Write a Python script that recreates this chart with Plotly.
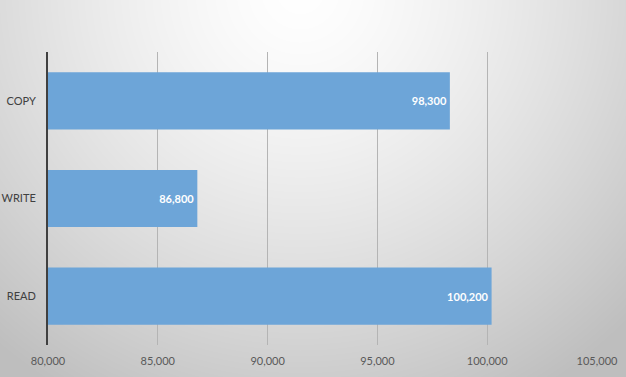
import base64, struct, zlib
import numpy as np
import plotly.graph_objects as go

# ---- data ----
categories = ["READ", "WRITE", "COPY"]
values = [100200, 86800, 98300]
tick_vals = [80000, 85000, 90000, 95000, 100000, 105000]
tick_text = ["80,000", "85,000", "90,000", "95,000", "100,000", "105,000"]

W, H = 626, 377
L, R, T, B = 48, 29, 52, 32
PW, PH = W - L - R, H - T - B

# ---- background radial gradient as PNG ----
yy, xx = np.mgrid[0:H, 0:W].astype(float)
d = np.sqrt((xx - 300.0) ** 2 + ((yy + 10.0) * 1.0) ** 2)
drop = 45.0 * (d / 360.0) ** 1.4
g = np.clip(255.0 - drop, 190, 255).astype(np.uint8)
raw = b"".join(b"\x00" + g[i].tobytes() for i in range(H))

def chunk(tag, data):
    c = struct.pack(">I", len(data)) + tag + data
    return c + struct.pack(">I", zlib.crc32(tag + data) & 0xffffffff)

png = b"\x89PNG\r\n\x1a\n" + chunk(b"IHDR", struct.pack(">IIBBBBB", W, H, 8, 0, 0, 0, 0)) \
    + chunk(b"IDAT", zlib.compress(raw, 9)) + chunk(b"IEND", b"")
uri = "data:image/png;base64," + base64.b64encode(png).decode()

fig = go.Figure()
fig.add_trace(go.Bar(
    y=categories, x=values, orientation="h",
    marker=dict(color="#6DA5D8", line=dict(width=0)),
    text=[f"{v:,}" for v in values], textposition="inside",
    insidetextanchor="end",
    textfont=dict(family="Lato", size=11, color="white", weight="bold"),
    cliponaxis=True,
))

fig.update_layout(
    width=W, height=H,
    margin=dict(l=L, r=R, t=T, b=B, pad=0, autoexpand=False),
    paper_bgcolor="white", plot_bgcolor="rgba(0,0,0,0)",
    bargap=0.415, showlegend=False,
    font=dict(family="Lato", size=11, color="#404040"),
    images=[dict(source=uri, xref="paper", yref="paper",
                 x=-L / PW, y=1 + T / PH, sizex=W / PW, sizey=H / PH,
                 xanchor="left", yanchor="top", sizing="stretch", layer="below")],
    xaxis=dict(range=[80000, 105000], tickvals=tick_vals, ticktext=tick_text,
               showgrid=True, gridcolor="#b4b4b4", gridwidth=1,
               zeroline=False, showline=False, ticks="", automargin=False,
               tickfont=dict(size=11, color="#595959"), ticklabelstandoff=8),
    yaxis=dict(showgrid=False, zeroline=False, showline=True, automargin=False,
               linecolor="#404040", linewidth=2, ticks="",
               tickfont=dict(size=11, color="#404040"), ticklabelstandoff=8),
)

fig.write_html("out.html", config={"displayModeBar": False},
               post_script="document.body.style.margin='0';document.body.style.padding='0';document.body.style.overflow='hidden';")
